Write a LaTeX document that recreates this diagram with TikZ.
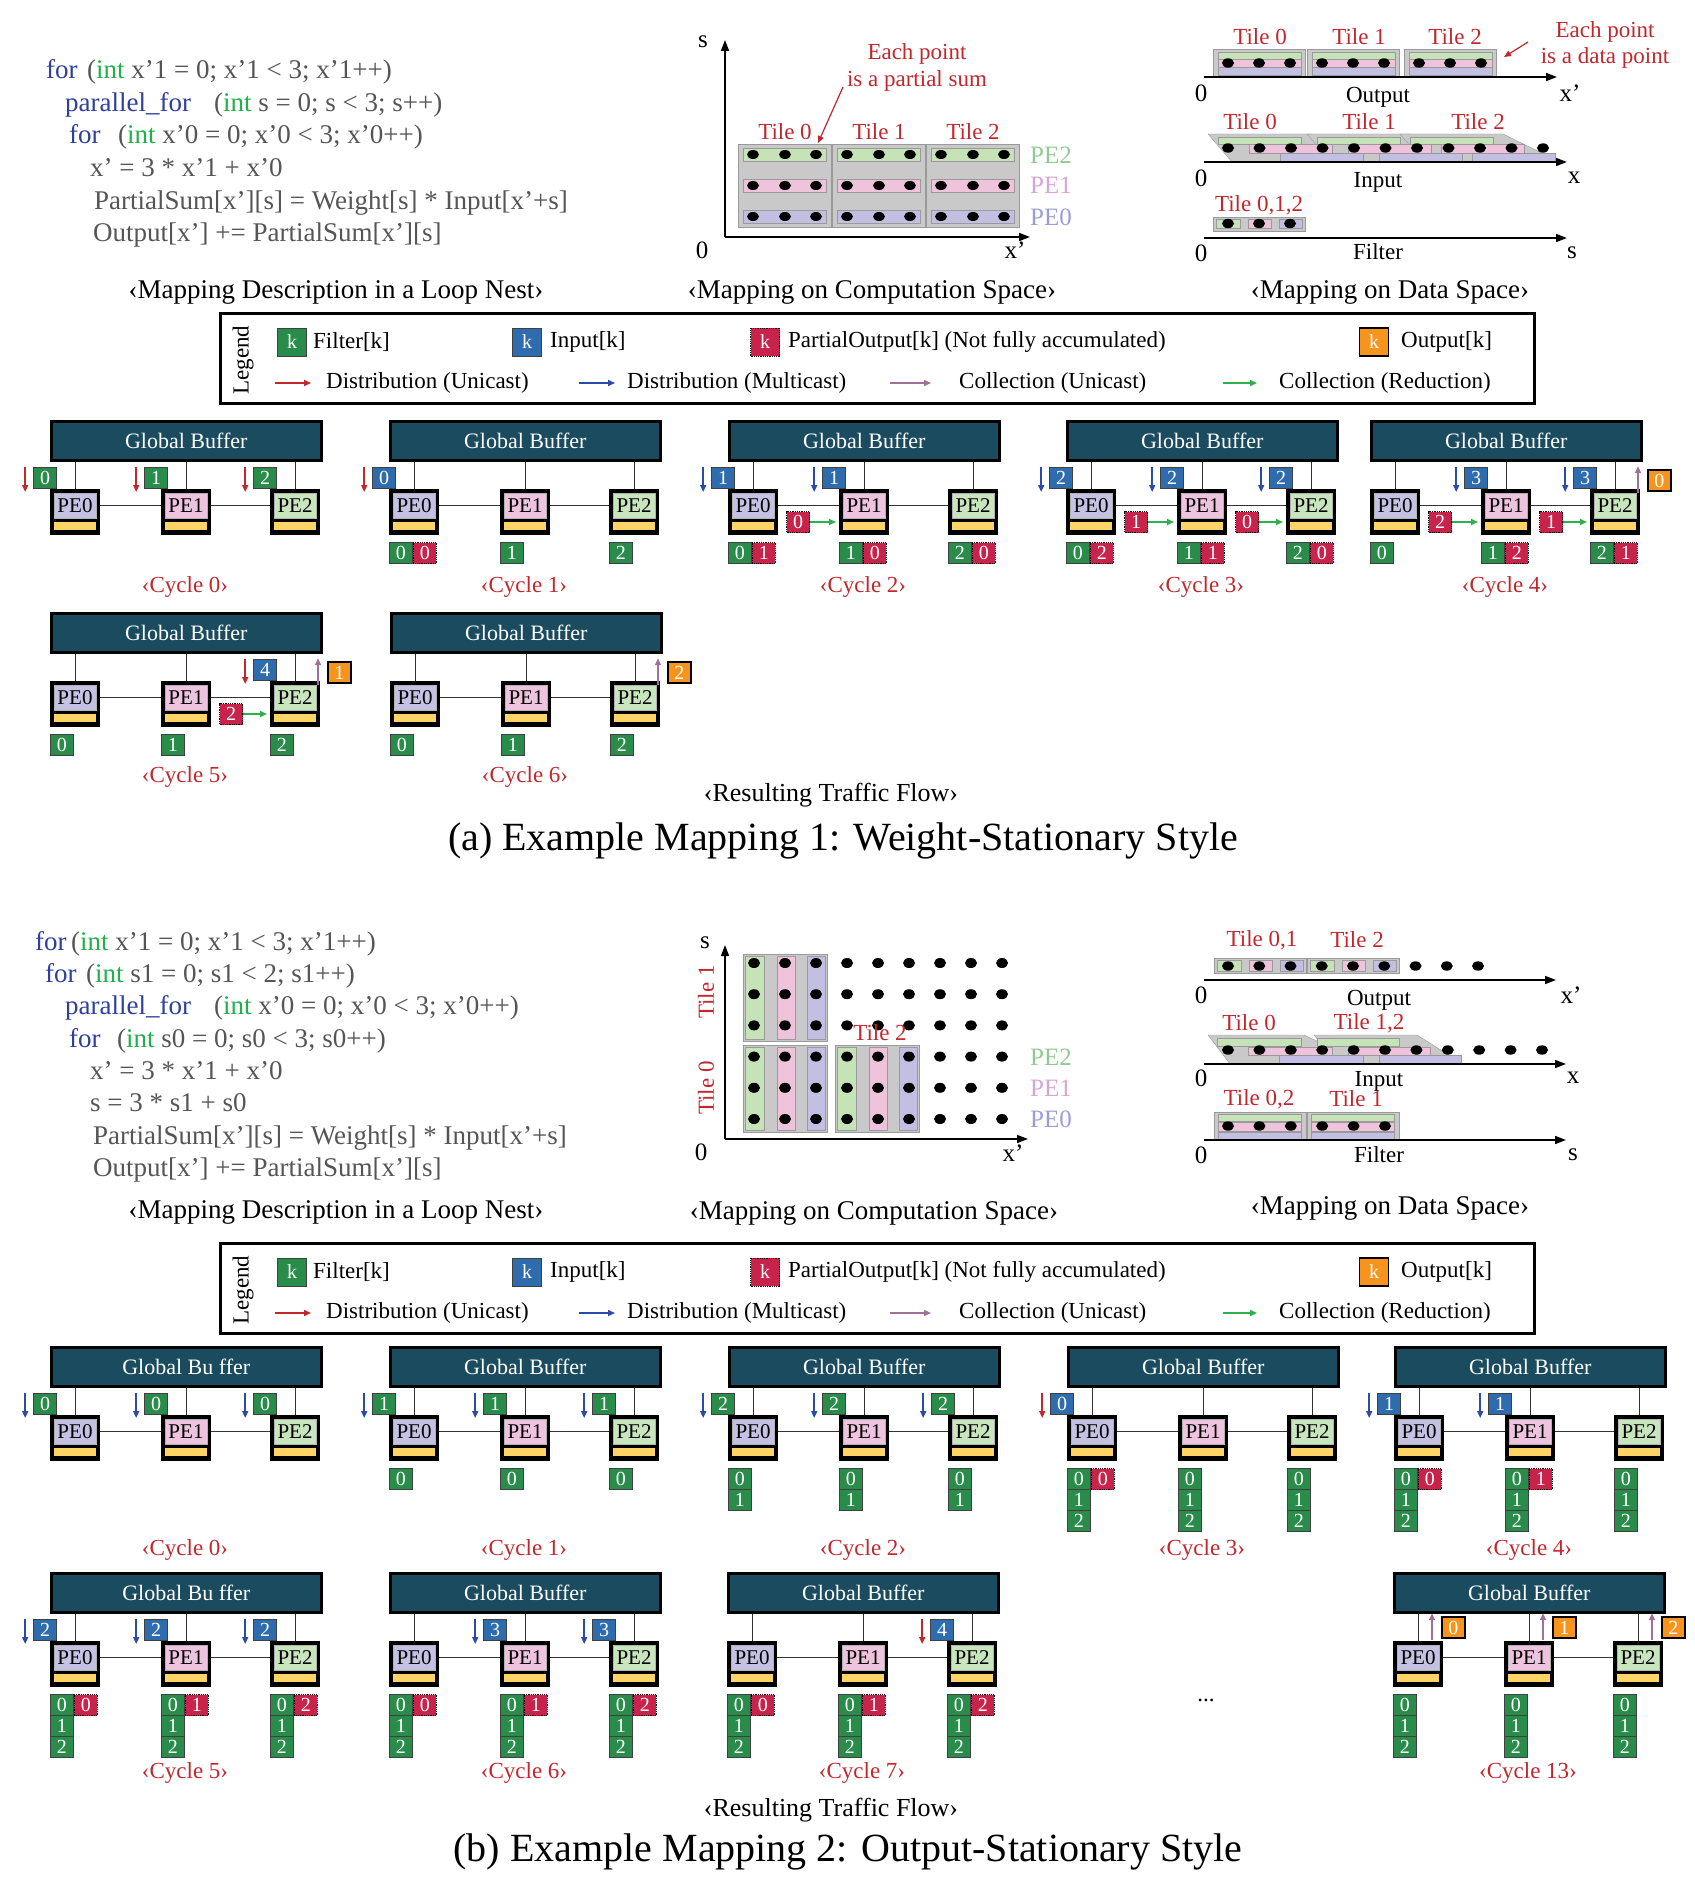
\documentclass[tikz,border=0pt]{standalone}
\usepackage{fontspec}
\setmainfont{Liberation Serif}
\usetikzlibrary{arrows.meta, positioning, shapes.geometric}

\definecolor{gbteal}{HTML}{1B4B5E}
\definecolor{sqgreen}{HTML}{2A8C4A}
\definecolor{sqblue}{HTML}{2F6CAE}
\definecolor{sqred}{HTML}{C8234A}
\definecolor{sqorange}{HTML}{F7941D}
\definecolor{pepurple}{HTML}{C4C1E2}
\definecolor{pepink}{HTML}{EEC3DD}
\definecolor{pegreen}{HTML}{C9E5BE}
\definecolor{peyellow}{HTML}{FFD466}
\definecolor{tilegray}{HTML}{C9C9C9}
\definecolor{tileline}{HTML}{9A9A9A}
\definecolor{stgreen}{HTML}{C5E3B6}
\definecolor{stpink}{HTML}{EFC3DC}
\definecolor{stpurple}{HTML}{C2BFE3}
\definecolor{txtred}{HTML}{C1272D}
\definecolor{kwblue}{HTML}{2E3F9E}
\definecolor{tygreen}{HTML}{21B14B}
\definecolor{codegray}{HTML}{555555}
\definecolor{arrred}{HTML}{C1272D}
\definecolor{arrblue}{HTML}{2B4BA8}
\definecolor{arrpurple}{HTML}{A07098}
\definecolor{arrgreen}{HTML}{2DB24B}
\definecolor{labgreen}{HTML}{8FCB8F}
\definecolor{labpink}{HTML}{D9A3D6}
\definecolor{labpurple}{HTML}{9C9CDA}

\newcommand{\fsz}[1]{\fontsize{#1pt}{#1pt}\selectfont}
\newcommand{\kw}[1]{\textcolor{kwblue}{#1}}
\newcommand{\ty}[1]{\textcolor{tygreen}{#1}}

% one cycle: buffer, three PEs, wires, label
\newcommand{\pecycle}[6]{%
  \node[gbbox] (#1-gb) at (#2,#3) {#4};
  \node[pebox=pepurple] (#1-pe0) at (#2,#3+69) {PE0};
  \node[pebox=pepink] (#1-pe1) at (#2+111,#3+69) {PE1};
  \node[pebox=pegreen] (#1-pe2) at (#2+220,#3+69) {PE2};
  \foreach \p in {0,1,2} \draw[wire] (#1-gb.south -| #1-pe\p.north) -- (#1-pe\p.north);
  \draw[wire] ([yshift=7pt]#1-pe0.east) -- ([yshift=7pt]#1-pe1.west);
  \draw[wire] ([yshift=7pt]#1-pe1.east) -- ([yshift=7pt]#1-pe2.west);
  \node[cyclab] (#1-lab) at (#2+135,#6) {#5};
}
% data arriving at a PE
\newcommand{\arrive}[4]{%
  \node[#2, anchor=south east] (#1-in) at ([xshift=7pt]#1.north west) {#3};
  \draw[#4] ([xshift=-8pt]#1-in.north west) -- ([xshift=-8pt,yshift=-3pt]#1-in.south west);
}
% data kept below a PE
\newcommand{\stored}[2]{%
  \foreach \k [count=\i from 0] in {#2}
    \node[fsq, anchor=north west] (#1-s\i) at ([yshift=-7pt-21pt*\i]#1.south west) {\k};
}
\newcommand{\psum}[2]{\node[psq, anchor=north west] (#1-p) at (#1-s0.north east) {#2};}
% partial sum moving to the next PE
\newcommand{\transit}[3]{%
  \node[psq, anchor=west] (#1-tr) at ([xshift=8pt,yshift=-10pt]#1.east) {#3};
  \draw[greenarr] (#1-tr.east) -- (#1-tr.east -| #2.west);
}
% output leaving a PE
\newcommand{\outgo}[4]{%
  \node[osq, anchor=south west] (#1-out) at ([xshift=#3,yshift=#4]#1.north east) {#2};
  \draw[purparr] ([xshift=-9pt,yshift=-1pt]#1-out.south west) -- ([xshift=-9pt,yshift=3pt]#1-out.north west);
}
% legend frame
\newcommand{\legendbox}[2]{%
  \node[legframe] (#1) at (219,#2) {};
  \node[rotate=90, font=\fsz{23}] (#1-t) at (243,#2+48) {Legend};
  \node[fsq, legsq] (#1-f) at (292,#2+30) {k};
  \node[legtxt] (#1-ft) at (313,#2+30) {Filter[k]};
  \node[isq, legsq] (#1-i) at (527,#2+30) {k};
  \node[legtxt] (#1-it) at (550,#2+30) {Input[k]};
  \node[psq, legsq] (#1-p) at (765,#2+30) {k};
  \node[legtxt] (#1-pt) at (788,#2+30) {PartialOutput[k] (Not fully accumulated)};
  \node[osq, legsq] (#1-o) at (1374,#2+30) {k};
  \node[legtxt] (#1-ot) at (1401,#2+30) {Output[k]};
  \node[legtxt] (#1-du) at (326,#2+71) {Distribution (Unicast)};
  \draw[redarr] ([xshift=-51pt]#1-du.west) -- ([xshift=-15pt]#1-du.west);
  \node[legtxt] (#1-dm) at (627,#2+71) {Distribution (Multicast)};
  \draw[bluearr] ([xshift=-48pt]#1-dm.west) -- ([xshift=-12pt]#1-dm.west);
  \node[legtxt] (#1-cu) at (959,#2+71) {Collection (Unicast)};
  \draw[purparr] ([xshift=-69pt]#1-cu.west) -- ([xshift=-28pt]#1-cu.west);
  \node[legtxt] (#1-cr) at (1279,#2+71) {Collection (Reduction)};
  \draw[greenarr] ([xshift=-56pt]#1-cr.west) -- ([xshift=-19pt]#1-cr.west);
}

\begin{document}
\begin{tikzpicture}[
  x=1pt, y=-1pt,
  gbbox/.style={draw=black, line width=2.5pt, fill=gbteal, text=white, anchor=north west,
                minimum width=270pt, minimum height=39pt, inner sep=0pt, font=\fsz{22}},
  pebox/.style={draw=black, line width=2pt, fill=black, anchor=north west,
                minimum width=48pt, inner xsep=0pt, inner ysep=3pt,
                text height=19.5pt, text depth=18.5pt, font=\fsz{21},
                path picture={
                  \filldraw[fill=#1, draw=gray!60, line width=0.4pt]
                    ([shift={(3pt,-3pt)}]path picture bounding box.north west) rectangle
                    ([shift={(-3pt,16pt)}]path picture bounding box.south east);
                  \fill[peyellow]
                    ([shift={(3pt,4pt)}]path picture bounding box.south west) rectangle
                    ([shift={(-3pt,12pt)}]path picture bounding box.south east);}},
  dsq/.style={minimum width=23pt, minimum height=21pt, inner sep=0pt, text=white,
              font=\fsz{20}, draw=black!75, line width=0.8pt},
  fsq/.style={dsq, fill=sqgreen},
  isq/.style={dsq, fill=sqblue},
  psq/.style={dsq, fill=sqred, draw=black, densely dotted, line width=1pt},
  osq/.style={dsq, fill=sqorange, draw=black, line width=1.8pt},
  legsq/.style={minimum width=29pt, minimum height=28pt},
  legframe/.style={draw=black, line width=2.5pt, anchor=north west,
                   minimum width=1314pt, minimum height=90pt, inner sep=0pt},
  legtxt/.style={font=\fsz{23}, anchor=west, inner sep=0pt},
  wire/.style={line width=1pt, black!80},
  redarr/.style={-{Triangle[length=7pt,width=6pt]}, line width=1.6pt, arrred},
  bluearr/.style={-{Triangle[length=7pt,width=6pt]}, line width=1.6pt, arrblue},
  purparr/.style={-{Triangle[length=7pt,width=6pt]}, line width=1.6pt, arrpurple},
  greenarr/.style={-{Triangle[length=7pt,width=6pt]}, line width=1.6pt, arrgreen, shorten >=3pt},
  axisarr/.style={-{Triangle[length=11pt,width=8pt]}, line width=1.6pt},
  cyclab/.style={font=\fsz{23}, text=txtred},
  code/.style={font=\fsz{27}, text=codegray, anchor=base west, inner sep=0pt},
  sub/.style={font=\fsz{27}},
  axlab/.style={font=\fsz{25}},
  tiletxt/.style={font=\fsz{23}, text=txtred},
  dot/.style={black},
]
\useasboundingbox (0,0) rectangle (1694,1889);

%% ---------- (a) loop nest ----------
\node[code] (ca1k) at (46,79) {\kw{for}};
\node[code] (ca1) at (87,79) {(\ty{int} x’1 = 0; x’1 < 3; x’1++)};
\node[code] (ca2k) at (65,111.5) {\kw{parallel\_for}};
\node[code] (ca2) at (214,111.5) {(\ty{int} s = 0; s < 3; s++)};
\node[code] (ca3k) at (69,144) {\kw{for}};
\node[code] (ca3) at (118,144) {(\ty{int} x’0 = 0; x’0 < 3; x’0++)};
\node[code] (ca4) at (90,176.5) {x’ = 3 * x’1 + x’0};
\node[code] (ca5) at (94,209) {PartialSum[x’][s] = Weight[s] * Input[x’+s]};
\node[code] (ca6) at (93,241.5) {Output[x’] += PartialSum[x’][s]};
\node[sub] (sa1) at (336,292) {‹Mapping Description in a Loop Nest›};

%% ---------- (a) computation space ----------
\foreach \t in {0,1,2} {
  \filldraw[fill=tilegray, draw=tileline] (738+94*\t,144) rectangle (831+94*\t,227);
  \foreach \c/\yy in {stgreen/148, stpink/179, stpurple/210}
    \filldraw[fill=\c, draw=tileline] (743+94*\t,\yy) rectangle (826+94*\t,\yy+13);
  \foreach \yy in {154.5,185.5,216.5}
    \foreach \xx in {753,785,816}
      \fill[dot] (\xx+94*\t,\yy) ellipse (6pt and 4.5pt);
  \node[tiletxt] at (785+94*\t,132) {Tile \t};
}
\draw[axisarr] (725,237) -- (725,40);
\draw[axisarr] (725,237) -- (1030,237);
\node[axlab] (csa-s) at (703,42) {s};
\node[axlab] (csa-0) at (702,250) {0};
\node[axlab] (csa-x) at (1015,250) {x’};
\node[font=\fsz{25}, text=labgreen] (csa-p2) at (1051,155) {PE2};
\node[font=\fsz{25}, text=labpink] (csa-p1) at (1051,185) {PE1};
\node[font=\fsz{25}, text=labpurple] (csa-p0) at (1051,217) {PE0};
\node[tiletxt, align=center] (csa-note) at (917,67) {Each point\\[4pt]is a partial sum};
\draw[redarr, line width=1.2pt] (843,87) -- (818,143);
\node[sub] (sa2) at (872,292) {‹Mapping on Computation Space›};

%% ---------- (a) data space ----------
\foreach \g [count=\t from 0] in {1213,1307,1404} {
  \filldraw[fill=tilegray, draw=tileline] (\g,49) rectangle (\g+92,77);
  \filldraw[fill=stgreen, draw=tileline] (\g+5,52) rectangle (\g+88,59);
  \filldraw[fill=stpink, draw=tileline] (\g+5,59) rectangle (\g+88,67);
  \filldraw[fill=stpurple, draw=tileline] (\g+5,67) rectangle (\g+88,75);
  \foreach \d in {15,46,77} \fill[dot] (\g+\d,63) ellipse (6pt and 4.7pt);
}
\node[tiletxt] at (1260,37) {Tile 0};
\node[tiletxt] at (1359,37) {Tile 1};
\node[tiletxt] at (1455,37) {Tile 2};
\node[tiletxt, align=center] (dsa-note) at (1605,45) {Each point\\[3pt]is a data point};
\draw[redarr, line width=1.2pt] (1528,42) -- (1504,57);
\draw[axisarr] (1204,77) -- (1557,77);
\node[axlab] at (1201,93) {0};
\node[axlab] at (1570,93) {x’};
\node[font=\fsz{23}] at (1378,97) {Output};

\foreach \g in {1218,1317,1410}
  \filldraw[fill=tilegray, draw=tileline] (\g-10,134) -- (\g+93,134) -- (\g+150,162) -- (\g+14,162) -- cycle;
\foreach \g in {1218,1317,1410} {
  \filldraw[fill=stgreen, draw=tileline] (\g,137) rectangle (\g+83,144);
  \filldraw[fill=stpink, draw=tileline] (\g+31,144) rectangle (\g+114,153);
  \filldraw[fill=stpurple, draw=tileline] (\g+62,153) rectangle (\g+145,161);
}
\foreach \k in {0,...,10} \fill[dot] (1228+31.5*\k,148) ellipse (6pt and 4.7pt);
\node[tiletxt] at (1250,122) {Tile 0};
\node[tiletxt] at (1369,122) {Tile 1};
\node[tiletxt] at (1478,122) {Tile 2};
\draw[axisarr] (1204,162) -- (1567,162);
\node[axlab] at (1201,178) {0};
\node[axlab] at (1574,178) {x};
\node[font=\fsz{23}] at (1378,182) {Input};

\filldraw[fill=tilegray, draw=tileline] (1213,217) rectangle (1305,231);
\filldraw[fill=stgreen, draw=tileline] (1216,219) rectangle (1240,228);
\filldraw[fill=stpink, draw=tileline] (1248,219) rectangle (1271,228);
\filldraw[fill=stpurple, draw=tileline] (1279,219) rectangle (1302,228);
\foreach \xx in {1228,1259,1290} \fill[dot] (\xx,223.5) ellipse (6pt and 4.7pt);
\node[tiletxt] at (1259,205) {Tile 0,1,2};
\draw[axisarr] (1204,238) -- (1567,238);
\node[axlab] at (1201,253) {0};
\node[axlab] at (1572,253) {s};
\node[font=\fsz{23}] at (1378,252) {Filter};
\node[sub] (sa3) at (1390,292) {‹Mapping on Data Space›};

%% ---------- (a) legend and cycles ----------
\legendbox{lega}{312}

\pecycle{a0}{50}{420}{Global Buffer}{‹Cycle 0›}{587}
\arrive{a0-pe0}{fsq}{0}{redarr}
\arrive{a0-pe1}{fsq}{1}{redarr}
\arrive{a0-pe2}{fsq}{2}{redarr}

\pecycle{a1}{389}{420}{Global Buffer}{‹Cycle 1›}{587}
\arrive{a1-pe0}{isq}{0}{redarr}
\stored{a1-pe0}{0}\psum{a1-pe0}{0}
\stored{a1-pe1}{1}
\stored{a1-pe2}{2}

\pecycle{a2}{728}{420}{Global Buffer}{‹Cycle 2›}{587}
\arrive{a2-pe0}{isq}{1}{bluearr}
\arrive{a2-pe1}{isq}{1}{bluearr}
\transit{a2-pe0}{a2-pe1}{0}
\stored{a2-pe0}{0}\psum{a2-pe0}{1}
\stored{a2-pe1}{1}\psum{a2-pe1}{0}
\stored{a2-pe2}{2}\psum{a2-pe2}{0}

\pecycle{a3}{1066}{420}{Global Buffer}{‹Cycle 3›}{587}
\arrive{a3-pe0}{isq}{2}{bluearr}
\arrive{a3-pe1}{isq}{2}{bluearr}
\arrive{a3-pe2}{isq}{2}{bluearr}
\transit{a3-pe0}{a3-pe1}{1}
\transit{a3-pe1}{a3-pe2}{0}
\stored{a3-pe0}{0}\psum{a3-pe0}{2}
\stored{a3-pe1}{1}\psum{a3-pe1}{1}
\stored{a3-pe2}{2}\psum{a3-pe2}{0}

\pecycle{a4}{1370}{420}{Global Buffer}{‹Cycle 4›}{587}
\arrive{a4-pe1}{isq}{3}{bluearr}
\arrive{a4-pe2}{isq}{3}{bluearr}
\transit{a4-pe0}{a4-pe1}{2}
\transit{a4-pe1}{a4-pe2}{1}
\outgo{a4-pe2}{0}{7pt}{-3pt}
\stored{a4-pe0}{0}
\stored{a4-pe1}{1}\psum{a4-pe1}{2}
\stored{a4-pe2}{2}\psum{a4-pe2}{1}

\pecycle{a5}{50}{612}{Global Buffer}{‹Cycle 5›}{777}
\arrive{a5-pe2}{isq}{4}{redarr}
\transit{a5-pe1}{a5-pe2}{2}
\outgo{a5-pe2}{1}{7pt}{-3pt}
\stored{a5-pe0}{0}
\stored{a5-pe1}{1}
\stored{a5-pe2}{2}

\pecycle{a6}{390}{612}{Global Buffer}{‹Cycle 6›}{777}
\outgo{a6-pe2}{2}{7pt}{-3pt}
\stored{a6-pe0}{0}
\stored{a6-pe1}{1}
\stored{a6-pe2}{2}

\node[font=\fsz{26}] (ra) at (831,795) {‹Resulting Traffic Flow›};
\node[font=\fsz{40}] (ta) at (843,841) {(a) Example Mapping 1: Weight-Stationary Style};

%% ---------- (b) loop nest ----------
\node[code] (cb1k) at (35,950) {\kw{for}};
\node[code] (cb1) at (71,950) {(\ty{int} x’1 = 0; x’1 < 3; x’1++)};
\node[code] (cb2k) at (45,982) {\kw{for}};
\node[code] (cb2) at (86,982) {(\ty{int} s1 = 0; s1 < 2; s1++)};
\node[code] (cb3k) at (65,1014.5) {\kw{parallel\_for}};
\node[code] (cb3) at (214,1014.5) {(\ty{int} x’0 = 0; x’0 < 3; x’0++)};
\node[code] (cb4k) at (69,1047) {\kw{for}};
\node[code] (cb4) at (117,1047) {(\ty{int} s0 = 0; s0 < 3; s0++)};
\node[code] (cb5) at (90,1079) {x’ = 3 * x’1 + x’0};
\node[code] (cb6) at (90,1111.5) {s = 3 * s1 + s0};
\node[code] (cb7) at (93,1144) {PartialSum[x’][s] = Weight[s] * Input[x’+s]};
\node[code] (cb8) at (93,1176) {Output[x’] += PartialSum[x’][s]};
\node[sub] (sb1) at (336,1212) {‹Mapping Description in a Loop Nest›};

%% ---------- (b) computation space ----------
\foreach \gx/\gy in {743/954, 743/1045, 835/1045} {
  \filldraw[fill=tilegray, draw=tileline] (\gx,\gy) rectangle (\gx+84,\gy+87);
  \filldraw[fill=stgreen, draw=tileline] (\gx+2,\gy+2) rectangle (\gx+21,\gy+85);
  \filldraw[fill=stpink, draw=tileline] (\gx+34,\gy+2) rectangle (\gx+52,\gy+85);
  \filldraw[fill=stpurple, draw=tileline] (\gx+64,\gy+2) rectangle (\gx+82,\gy+85);
}
\foreach \c in {0,...,8}
  \foreach \r in {0,...,5}
    \fill[dot] (754+31*\c,963+31.2*\r) ellipse (6pt and 5pt);
\draw[axisarr] (725,1139) -- (725,945);
\draw[axisarr] (725,1139) -- (1028,1139);
\node[tiletxt] at (880,1033) {Tile 2};
\node[tiletxt, rotate=90] at (706,992) {Tile 1};
\node[tiletxt, rotate=90] at (706,1088) {Tile 0};
\node[axlab] (csb-s) at (705,943) {s};
\node[axlab] (csb-0) at (701,1152) {0};
\node[axlab] (csb-x) at (1013,1153) {x’};
\node[font=\fsz{25}, text=labgreen] (csb-p2) at (1051,1057) {PE2};
\node[font=\fsz{25}, text=labpink] (csb-p1) at (1051,1088) {PE1};
\node[font=\fsz{25}, text=labpurple] (csb-p0) at (1051,1119) {PE0};
\node[sub] (sb2) at (874,1213) {‹Mapping on Computation Space›};

%% ---------- (b) data space ----------
\foreach \g in {1214,1307} {
  \filldraw[fill=tilegray, draw=tileline] (\g,958) rectangle (\g+92,973);
  \filldraw[fill=stgreen, draw=tileline] (\g+3,960) rectangle (\g+27,971);
  \filldraw[fill=stpink, draw=tileline] (\g+35,960) rectangle (\g+58,971);
  \filldraw[fill=stpurple, draw=tileline] (\g+66,960) rectangle (\g+89,971);
}
\foreach \k in {0,...,8} \fill[dot] (1228+31.25*\k,966) ellipse (6pt and 4.7pt);
\node[tiletxt] at (1262,940) {Tile 0,1};
\node[tiletxt] at (1357,940) {Tile 2};
\draw[axisarr] (1204,980) -- (1556,980);
\node[axlab] at (1201,995) {0};
\node[axlab] at (1571,995) {x’};
\node[font=\fsz{23}] at (1379,1000) {Output};

\filldraw[fill=tilegray, draw=tileline] (1208,1035) -- (1304,1035) -- (1366,1064) -- (1230,1064) -- cycle;
\filldraw[fill=tilegray, draw=tileline] (1314,1035) -- (1417,1035) -- (1463,1064) -- (1338,1064) -- cycle;
\foreach \g/\w in {1217/0, 1317/-2} {
  \filldraw[fill=stgreen, draw=tileline] (\g,1038) rectangle (\g+84+\w,1046);
  \filldraw[fill=stpink, draw=tileline] (\g+31,1047) rectangle (\g+115+\w,1055);
  \filldraw[fill=stpurple, draw=tileline] (\g+62,1055) rectangle (\g+146+\w,1063);
}
\foreach \k in {0,...,10} \fill[dot] (1228+31.4*\k,1050) ellipse (6pt and 4.7pt);
\node[tiletxt] at (1249,1023) {Tile 0};
\node[tiletxt] at (1369,1023) {Tile 1,2};
\draw[axisarr] (1204,1064) -- (1566,1064);
\node[axlab] at (1201,1078) {0};
\node[axlab] at (1573,1078) {x};
\node[font=\fsz{23}] at (1379,1081) {Input};

\foreach \g in {1214,1307} {
  \filldraw[fill=tilegray, draw=tileline] (\g,1112) rectangle (\g+92,1140);
  \filldraw[fill=stgreen, draw=tileline] (\g+4,1114) rectangle (\g+87,1121);
  \filldraw[fill=stpink, draw=tileline] (\g+4,1122) rectangle (\g+87,1131);
  \filldraw[fill=stpurple, draw=tileline] (\g+4,1132) rectangle (\g+87,1139);
}
\foreach \k in {0,...,5} \fill[dot] (1228+31.4*\k,1126) ellipse (6pt and 4.7pt);
\node[tiletxt] at (1259,1099) {Tile 0,2};
\node[tiletxt] at (1356,1099) {Tile 1};
\draw[axisarr] (1204,1140) -- (1566,1140);
\node[axlab] at (1201,1155) {0};
\node[axlab] at (1573,1155) {s};
\node[font=\fsz{23}] at (1379,1155) {Filter};
\node[sub] (sb3) at (1390,1208) {‹Mapping on Data Space›};

%% ---------- (b) legend and cycles ----------
\legendbox{legb}{1242}

\pecycle{b0}{50}{1346}{Global Bu ffer}{‹Cycle 0›}{1550}
\arrive{b0-pe0}{fsq}{0}{bluearr}
\arrive{b0-pe1}{fsq}{0}{bluearr}
\arrive{b0-pe2}{fsq}{0}{bluearr}

\pecycle{b1}{389}{1346}{Global Buffer}{‹Cycle 1›}{1550}
\arrive{b1-pe0}{fsq}{1}{bluearr}
\arrive{b1-pe1}{fsq}{1}{bluearr}
\arrive{b1-pe2}{fsq}{1}{bluearr}
\stored{b1-pe0}{0}
\stored{b1-pe1}{0}
\stored{b1-pe2}{0}

\pecycle{b2}{728}{1346}{Global Buffer}{‹Cycle 2›}{1550}
\arrive{b2-pe0}{fsq}{2}{bluearr}
\arrive{b2-pe1}{fsq}{2}{bluearr}
\arrive{b2-pe2}{fsq}{2}{bluearr}
\stored{b2-pe0}{0,1}
\stored{b2-pe1}{0,1}
\stored{b2-pe2}{0,1}

\pecycle{b3}{1067}{1346}{Global Buffer}{‹Cycle 3›}{1550}
\arrive{b3-pe0}{isq}{0}{redarr}
\stored{b3-pe0}{0,1,2}\psum{b3-pe0}{0}
\stored{b3-pe1}{0,1,2}
\stored{b3-pe2}{0,1,2}

\pecycle{b4}{1394}{1346}{Global Buffer}{‹Cycle 4›}{1550}
\arrive{b4-pe0}{isq}{1}{bluearr}
\arrive{b4-pe1}{isq}{1}{bluearr}
\stored{b4-pe0}{0,1,2}\psum{b4-pe0}{0}
\stored{b4-pe1}{0,1,2}\psum{b4-pe1}{1}
\stored{b4-pe2}{0,1,2}

\pecycle{b5}{50}{1572}{Global Bu ffer}{‹Cycle 5›}{1773}
\arrive{b5-pe0}{isq}{2}{bluearr}
\arrive{b5-pe1}{isq}{2}{bluearr}
\arrive{b5-pe2}{isq}{2}{bluearr}
\stored{b5-pe0}{0,1,2}\psum{b5-pe0}{0}
\stored{b5-pe1}{0,1,2}\psum{b5-pe1}{1}
\stored{b5-pe2}{0,1,2}\psum{b5-pe2}{2}

\pecycle{b6}{389}{1572}{Global Buffer}{‹Cycle 6›}{1773}
\arrive{b6-pe1}{isq}{3}{bluearr}
\arrive{b6-pe2}{isq}{3}{bluearr}
\stored{b6-pe0}{0,1,2}\psum{b6-pe0}{0}
\stored{b6-pe1}{0,1,2}\psum{b6-pe1}{1}
\stored{b6-pe2}{0,1,2}\psum{b6-pe2}{2}

\pecycle{b7}{727}{1572}{Global Buffer}{‹Cycle 7›}{1773}
\arrive{b7-pe2}{isq}{4}{redarr}
\stored{b7-pe0}{0,1,2}\psum{b7-pe0}{0}
\stored{b7-pe1}{0,1,2}\psum{b7-pe1}{1}
\stored{b7-pe2}{0,1,2}\psum{b7-pe2}{2}

\node[font=\fsz{23}] (dots) at (1206,1700) {...};

\pecycle{b13}{1393}{1572}{Global Buffer}{‹Cycle 13›}{1773}
\outgo{b13-pe0}{0}{-2pt}{2pt}
\outgo{b13-pe1}{1}{-2pt}{2pt}
\outgo{b13-pe2}{2}{-2pt}{2pt}
\stored{b13-pe0}{0,1,2}
\stored{b13-pe1}{0,1,2}
\stored{b13-pe2}{0,1,2}

\node[font=\fsz{26}] (rb) at (831,1810) {‹Resulting Traffic Flow›};
\node[font=\fsz{40}] (tb) at (848,1852) {(b) Example Mapping 2: Output-Stationary Style};
\end{tikzpicture}
\end{document}
